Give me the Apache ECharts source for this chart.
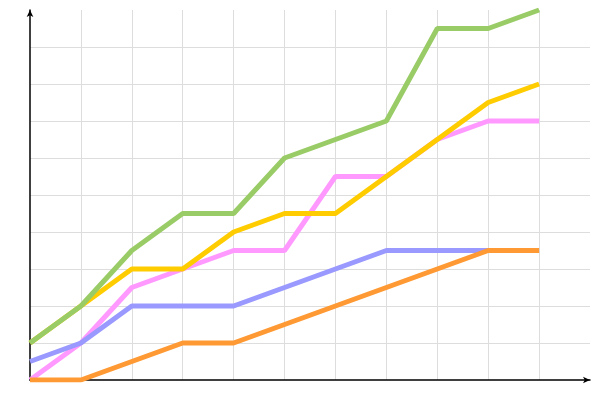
<!DOCTYPE html>
<html>
<head>
<meta charset="utf-8">
<script src="https://cdn.jsdelivr.net/npm/echarts@6/dist/echarts.min.js"></script>
<style>html,body{margin:0;padding:0;background:#fff;}#c{width:600px;height:400px;}</style>
</head>
<body>
<div id="c"></div>
<script>
var xValues = [0, 1, 2, 3, 4, 5, 6, 7, 8, 9, 10];
var pinkVals   = [0, 1, 2.5, 3, 3.5, 3.5, 5.5, 5.5, 6.5, 7, 7];
var yellowVals = [1, 2, 3, 3, 4, 4.5, 4.5, 5.5, 6.5, 7.5, 8];
var greenVals  = [1, 2, 3.5, 4.5, 4.5, 6, 6.5, 7, 9.5, 9.5, 10];
var blueVals   = [0.5, 1, 2, 2, 2, 2.5, 3, 3.5, 3.5, 3.5, 3.5];
var orangeVals = [0, 0, 0.5, 1, 1, 1.5, 2, 2.5, 3, 3.5, 3.5];

function pairs(vals) { return xValues.map(function (x, i) { return [x, vals[i]]; }); }
function mk(vals, color) {
  return { type: 'line', data: pairs(vals), showSymbol: false, symbol: 'none', smooth: false,
    lineStyle: { color: color, width: 5 }, itemStyle: { color: color }, animation: false };
}
var chart = echarts.init(document.getElementById('c'), null, { renderer: 'canvas' });
var axisCommon = {
  type: 'value', interval: 1,
  axisLine: { show: true, onZero: false, symbol: ['none', 'arrow'], symbolSize: [5, 7], lineStyle: { color: '#000', width: 1.5 } },
  axisTick: { show: false }, axisLabel: { show: false },
  splitLine: { show: true, showMinLine: false, showMaxLine: false, lineStyle: { color: '#dddddd', width: 1 } }
};
chart.setOption({
  animation: false,
  grid: { left: 30, right: 10, top: 10, bottom: 20, containLabel: false },
  xAxis: Object.assign({}, axisCommon, { min: 0, max: 11 }),
  yAxis: Object.assign({}, axisCommon, { min: 0, max: 10 }),
  series: [
    mk(pinkVals, '#FF99FF'),
    mk(yellowVals, '#FFCC00'),
    mk(greenVals, '#99CC66'),
    mk(blueVals, '#9999FF'),
    mk(orangeVals, '#FF9933')
  ]
});
</script>
</body>
</html>
